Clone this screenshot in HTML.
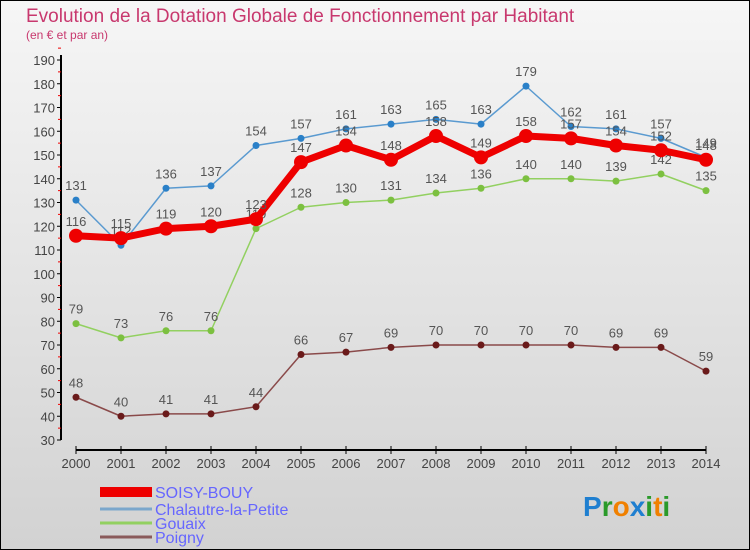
<!DOCTYPE html>
<html><head><meta charset="utf-8"><style>
body{margin:0;width:750px;height:550px;overflow:hidden;font-family:"Liberation Sans","DejaVu Sans",sans-serif}
#c{position:absolute;left:0;top:0;width:748px;height:548px;border:1px solid #000;background:linear-gradient(#f6f6f6,#d2d2d2)}
</style></head><body>
<div id="c">
<svg width="750" height="550" xmlns="http://www.w3.org/2000/svg" id="svg" style="position:absolute;left:-1px;top:-1px">
<text x="26" y="22" font-size="19" fill="#c8386e">Evolution de la Dotation Globale de Fonctionnement par Habitant</text>
<text x="26" y="39" font-size="12" fill="#c8386e">(en € et par an)</text>
<g id="axes"></g><g id="series"></g>
<g font-size="28" font-weight="bold">
<text x="583" y="516"><tspan fill="#1f7fd0">P</tspan><tspan fill="#2a9a2a">r</tspan><tspan fill="#f08000">o</tspan><tspan fill="#1f7fd0">x</tspan><tspan fill="#2a9a2a">i</tspan><tspan fill="#f08000">t</tspan><tspan fill="#2a9a2a">i</tspan></text>
</g>
</svg>
</div>
<script>
const years=["2000","2001","2002","2003","2004","2005","2006","2007","2008","2009","2010","2011","2012","2013","2014"];
const soisy=[116,115,119,120,123,147,154,148,158,149,158,157,154,152,148];
const chalautre=[131,112,136,137,154,157,161,163,165,163,179,162,161,157,149];
const gouaix=[79,73,76,76,119,128,130,131,134,136,140,140,139,142,135];
const poigny=[48,40,41,41,44,66,67,69,70,70,70,70,69,69,59];
const yTicks=[30,40,50,60,70,80,90,100,110,120,130,140,150,160,170,180,190];
const NS="http://www.w3.org/2000/svg";
const X=i=>76+i*45, Y=v=>440-(v-30)*2.375;
function mk(t,a,p){const e=document.createElementNS(NS,t);for(const k in a)e.setAttribute(k,a[k]);p.appendChild(e);return e;}
const ax=document.getElementById('axes');
let l=mk('line',{x1:61,y1:55,x2:61,y2:440,stroke:'#000','stroke-width':2},ax);

yTicks.forEach(v=>{
 mk('line',{x1:57,x2:61,y1:Y(v),y2:Y(v),stroke:'#000'},ax);
 mk('line',{x1:58,x2:61,y1:Y(v+5),y2:Y(v+5),stroke:'#e00'},ax);
 const t=mk('text',{x:55,y:Y(v)+5,'font-size':13,fill:'#444','text-anchor':'end'},ax);t.textContent=v;
 
});
l=mk('line',{x1:76,y1:450,x2:706,y2:450,stroke:'#000','stroke-width':2},ax);

years.forEach((y,i)=>{
 mk('line',{x1:X(i),x2:X(i),y1:446,y2:454,stroke:'#000'},ax);
 const t=mk('text',{x:X(i),y:468,'font-size':13,fill:'#444','text-anchor':'middle'},ax);t.textContent=y;
 
});
const sg=document.getElementById('series');
function draw(d,col,w,r,name,dot){
 const g=mk('g',{},sg);
 
 mk('polyline',{points:d.map((v,i)=>X(i)+','+Y(v)).join(' '),fill:'none',stroke:col,'stroke-width':w,'stroke-linejoin':'round'},g);
 d.forEach((v,i)=>{
  const c=mk('circle',{cx:X(i),cy:Y(v),r:r,fill:dot},g);
  
  const t=mk('text',{x:X(i),y:Y(v)-10,'font-size':13,fill:'#555','text-anchor':'middle'},g);t.textContent=v;
  
 });
}
draw(poigny,'#8a4a4a',1.5,3.5,'poigny','#6a1a1a');
draw(gouaix,'#92d060',1.5,3.5,'gouaix','#7cc040');
draw(chalautre,'#5a9ad0',1.5,3.5,'chalautre','#2a80c8');
draw(soisy,'#e00',7,7,'soisy','#e00');
const svg=document.getElementById('svg');
const lg=[['SOISY-BOUY','#e00',492,10],['Chalautre-la-Petite','#7ba7cc',509,3],['Gouaix','#92d060',523,3],['Poigny','#8a5a5a',537,3]];
lg.forEach(([n,c,y,h])=>{
 const r=mk('rect',{x:100,y:y-h/2,width:52,height:h,fill:c},svg);
 
 const t=mk('text',{x:155,y:y+6,'font-size':16,fill:'#6666ff'},svg);t.textContent=n;
 
});
</script>
</body></html>
